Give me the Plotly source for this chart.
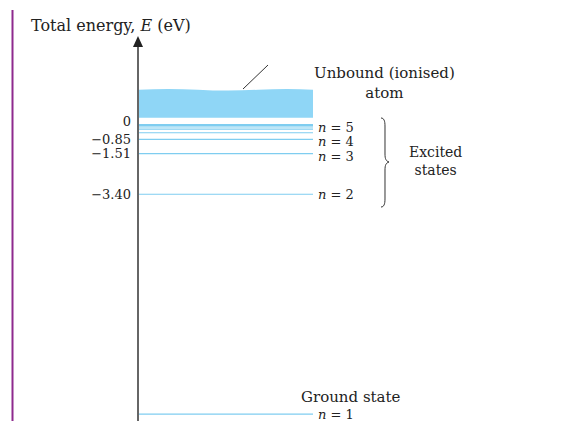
import plotly.graph_objects as go

W, H = 582, 421

# ---- data ----
level_n = [1, 2, 3, 4, 5, 6, 7, 8, 9]
level_E = [-13.6, -3.40, -1.51, -0.85, -0.544, -0.378, -0.278, -0.2125, -0.168]
labeled_n = [1, 2, 3, 4, 5]
label_shift = {1: 0, 2: 0, 3: -3, 4: -2, 5: 5}
tick_vals = [0, -0.85, -1.51, -3.40, -13.6]
tick_text = ["0", "−0.85", "−1.51", "−3.40", "−13.6"]
y_title = "Total energy, <i>E</i> (eV)"

# ---- geometry helpers ----
AX_PX = 138            # pixel x of the energy axis
LINE_LEN = 175         # length of level lines (px)
Y_RANGE = [-13.921, 5.615]
FONT = "DejaVu Serif"
TXT = "#222222"
LEVEL_COL = "#7fcdf0"
BAND_COL = "#8fd6f6"


def px(x):
    return x / W


def py(y):
    return 1 - y / H


def path_paper(points_cmds):
    out = []
    for cmd, pts in points_cmds:
        s = cmd
        for (x, y) in pts:
            s += f" {px(x):.5f},{py(y):.5f}"
        out.append(s)
    return " ".join(out)


fig = go.Figure()

# level lines
xs, ys = [], []
for e in level_E:
    xs += [1, LINE_LEN, None]
    ys += [e, e, None]
fig.add_trace(go.Scatter(x=xs, y=ys, mode="lines",
                         line=dict(color=LEVEL_COL, width=1.2),
                         hoverinfo="skip", showlegend=False))

shapes = []
# purple page rule
shapes.append(dict(type="line", xref="paper", yref="paper",
                   x0=px(12.5), x1=px(12.5), y0=py(10), y1=0,
                   line=dict(color="#8e2a8e", width=2)))
# energy axis
shapes.append(dict(type="line", xref="x", yref="paper",
                   x0=0, x1=0, y0=0, y1=py(45),
                   line=dict(color="#333333", width=1.5)))
# arrowhead
shapes.append(dict(type="path", xref="paper", yref="paper",
                   path=path_paper([("M", [(138, 36)]), ("L", [(133, 47)]),
                                    ("L", [(143, 47)])]) + " Z",
                   fillcolor="#222222", line=dict(width=0)))
# ionised continuum band (wavy top)
top = 1.45
band = (f"M 1,0.15 L 1,{top} Q 30,{top+0.08} 60,{top} Q 90,{top-0.08} 120,{top} "
        f"Q 150,{top+0.08} {LINE_LEN},{top} L {LINE_LEN},0.15 Z")
shapes.append(dict(type="path", xref="x", yref="y", path=band,
                   fillcolor=BAND_COL, line=dict(width=0)))
# leader line
shapes.append(dict(type="line", xref="paper", yref="paper",
                   x0=px(268), y0=py(65), x1=px(243), y1=py(89),
                   line=dict(color="#333333", width=1)))
# curly brace
brace = path_paper([
    ("M", [(381, 118)]),
    ("C", [(384, 118), (385, 121), (385, 126)]),
    ("L", [(385, 154)]),
    ("C", [(385, 159), (386, 161), (389, 162)]),
    ("C", [(386, 163), (385, 165), (385, 170)]),
    ("L", [(385, 199)]),
    ("C", [(385, 204), (384, 207), (381, 207)]),
])
shapes.append(dict(type="path", xref="paper", yref="paper", path=brace,
                   line=dict(color="#333333", width=1)))

annotations = []


def ann(text, x, y, xanchor="center", size=15):
    annotations.append(dict(text=text, x=x, y=y, xref="paper", yref="paper",
                            xanchor=xanchor, yanchor="middle", showarrow=False,
                            font=dict(family=FONT, size=size, color=TXT)))


ann(y_title, px(29), py(26), xanchor="left", size=16)
ann("Unbound (ionised)<br>atom", px(384), py(83))
ann("Excited<br>states", px(435), py(161), size=14)
ann("Ground state", px(351), py(397))

for n, e in zip(level_n, level_E):
    if n in labeled_n:
        annotations.append(dict(text=f"<i>n</i> = {n}", x=LINE_LEN + 3, y=e,
                                xref="x", yref="y", xanchor="left",
                                yanchor="middle", showarrow=False,
                                yshift=label_shift[n],
                                font=dict(family=FONT, size=13, color=TXT)))

fig.update_layout(
    width=W, height=H,
    margin=dict(l=0, r=0, t=0, b=0, pad=0),
    paper_bgcolor="white", plot_bgcolor="white",
    shapes=shapes, annotations=annotations,
    xaxis=dict(visible=False, range=[-AX_PX, W - AX_PX], domain=[0, 1],
               fixedrange=True),
    yaxis=dict(range=Y_RANGE, anchor="free", position=AX_PX / W,
               showgrid=False, zeroline=False, showline=False, ticks="",
               tickvals=tick_vals, ticktext=tick_text,
               tickfont=dict(family=FONT, size=13, color=TXT),
               ticklabelstandoff=7, fixedrange=True),
    showlegend=False,
)

fig.write_html("out.html",
               config={"displayModeBar": False},
               post_script="document.body.style.margin='0';"
                           "document.documentElement.style.overflow='hidden';")
